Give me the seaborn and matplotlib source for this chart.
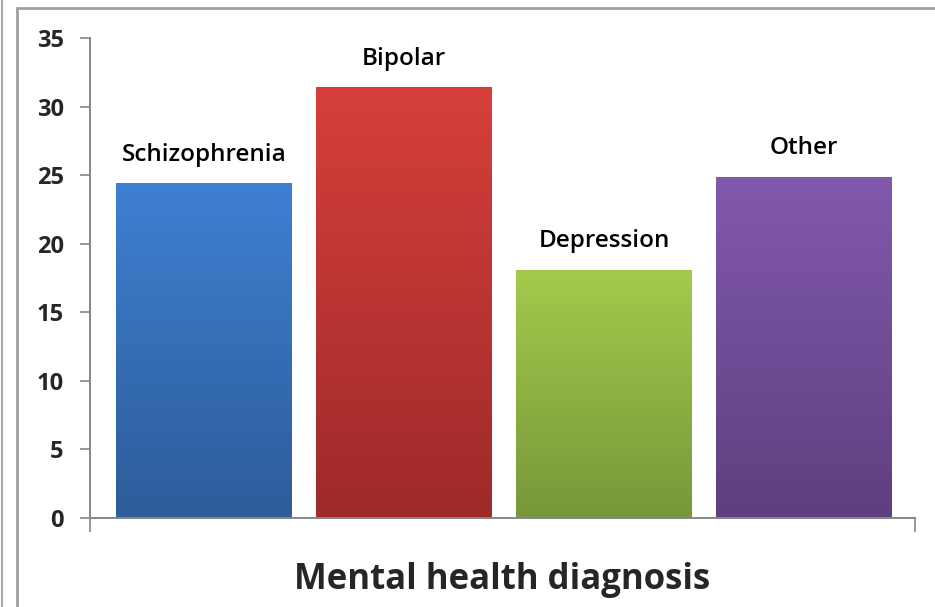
import numpy as np
import pandas as pd
import seaborn as sns
import matplotlib.pyplot as plt
from matplotlib.colors import LinearSegmentedColormap
from matplotlib.lines import Line2D

diagnoses = ["Schizophrenia", "Bipolar", "Depression", "Other"]
percent = [24.4, 31.4, 18.1, 24.9]
top_colors = ["#3e80d2", "#d63f3b", "#a5ca4b", "#8159ad"]
bottom_colors = ["#2d5c99", "#9e2a2a", "#76983a", "#5f3f7f"]
y_ticks = [0, 5, 10, 15, 20, 25, 30, 35]

sns.set_style("white")
plt.rcParams['font.family'] = ['Open Sans', 'DejaVu Sans']

df = pd.DataFrame({"diagnosis": diagnoses, "percent": percent})

fig = plt.figure(figsize=(9.35, 6.07), dpi=100)
ax = fig.add_axes([90 / 935, 89 / 607, 825 / 935, 480 / 607])

sns.barplot(data=df, x="diagnosis", y="percent", hue="diagnosis",
            palette=top_colors, width=0.88, legend=False, ax=ax)

# vertical gradient fill clipped to each bar
grad = np.linspace(0, 1, 256).reshape(-1, 1)
for bar, c0, c1 in zip(ax.patches, top_colors, bottom_colors):
    cmap = LinearSegmentedColormap.from_list("g", [c1, c0])
    x0, w, h = bar.get_x(), bar.get_width(), bar.get_height()
    im = ax.imshow(grad, cmap=cmap, aspect="auto", origin="lower",
                   extent=[x0, x0 + w, 0, h], zorder=bar.get_zorder())
    im.set_clip_path(bar)
    bar.set_edgecolor("none")

for i, (name, v) in enumerate(zip(diagnoses, percent)):
    ax.text(i, v + 1.2, name, ha="center", va="bottom", fontsize=17.5,
            fontweight="semibold", color="black")

x_lo, x_hi = -0.57, 3.555
ax.set_xlim(x_lo, x_hi)
ax.set_ylim(0, 35)
ax.set_yticks(y_ticks)
ax.set_xticks([x_lo, x_hi])
ax.set_xticklabels(["", ""])
ax.tick_params(axis="y", direction="out", length=7, width=1.2, color="#868686",
               labelsize=17, pad=12, left=True)
ax.tick_params(axis="x", direction="out", length=10, width=1.2, color="#868686",
               bottom=True)
for lab in ax.get_yticklabels():
    lab.set_fontweight("bold")

for s in ["top", "right"]:
    ax.spines[s].set_visible(False)
for s in ["left", "bottom"]:
    ax.spines[s].set_color("#868686")
    ax.spines[s].set_linewidth(1.4)

ax.set_ylabel("")
ax.set_xlabel("Mental health diagnosis", fontsize=25, fontweight="bold", labelpad=18)

# outer chart frame
fig.add_artist(Line2D([17 / 935, 1], [1 - 8 / 607, 1 - 8 / 607], color="#a0a0a0", lw=2))
fig.add_artist(Line2D([17 / 935, 17 / 935], [0, 1 - 8 / 607], color="#a0a0a0", lw=2))
fig.add_artist(Line2D([2 / 935, 2 / 935], [0, 1], color="#a8a8a8", lw=1.5))

fig.savefig("out.png", dpi=100)
